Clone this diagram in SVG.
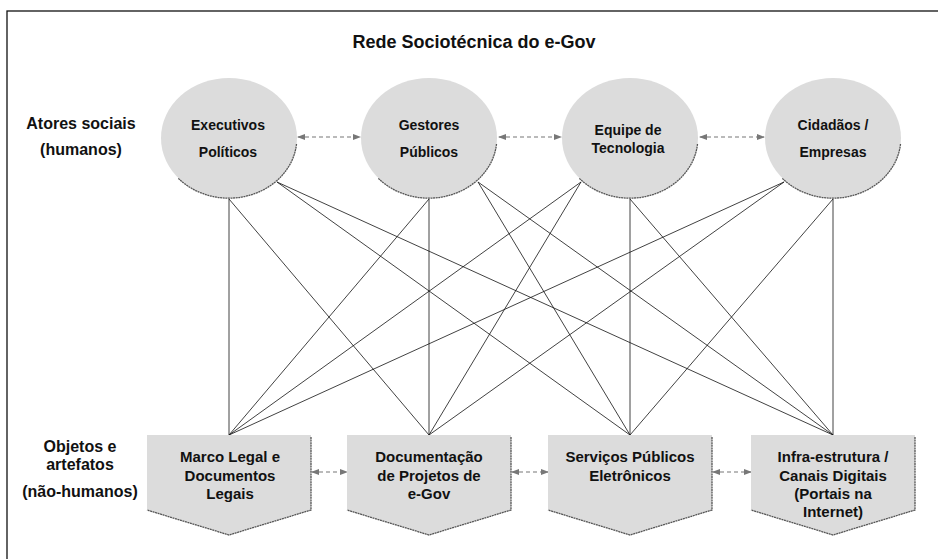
<svg xmlns="http://www.w3.org/2000/svg" width="938" height="559" viewBox="0 0 938 559">
  <defs>
    <marker id="ah" viewBox="0 0 8 8" refX="7" refY="4" markerWidth="8" markerHeight="8" markerUnits="userSpaceOnUse" orient="auto-start-reverse">
      <path d="M0,1 L8,4 L0,7 z" fill="#777"/>
    </marker>
    <style>
      text { font-family: "Liberation Sans", Arial, sans-serif; font-weight: bold; fill: #111; text-anchor: middle; }
      .title { font-size: 18px; }
      .side { font-size: 16px; }
      .act { font-size: 14px; }
      .obj { font-size: 15px; }
      .actor ellipse { fill: #dcdcdc; }
      .shade { fill: none; stroke: #555; stroke-width: 1.3; stroke-dasharray: 2 0.6; }
      .object polygon { fill: #dcdcdc; }
      .link { stroke: #111; stroke-width: 0.8; fill: none; }
      .rel { stroke: #777; stroke-width: 1.2; stroke-dasharray: 4 3; fill: none; marker-start: url(#ah); marker-end: url(#ah); }
    </style>
  </defs>

  <rect width="938" height="559" fill="#fff"/>
  <!-- frame -->
  <rect x="7" y="11" width="1000" height="600" fill="none" stroke="#111" stroke-width="1.3"/>

  <text class="title" x="474" y="48">Rede Sociotécnica do e-Gov</text>

  <g id="label-actors">
    <text class="side" x="81" y="129">Atores sociais</text>
    <text class="side" x="81" y="155">(humanos)</text>
  </g>
  <g id="label-objects">
    <text class="side" x="80" y="452">Objetos e</text>
    <text class="side" x="80" y="470">artefatos</text>
    <text class="side" x="80" y="497">(não-humanos)</text>
  </g>

  <!-- connectors -->
  <g id="connectors">
    <!-- Executivos Politicos -->
    <line class="link" x1="229" y1="199" x2="229" y2="435"/>
    <line class="link" x1="229" y1="199" x2="429" y2="435"/>
    <line class="link" x1="277" y1="182" x2="630" y2="435"/>
    <line class="link" x1="277" y1="182" x2="833" y2="435"/>
    <!-- Gestores Publicos -->
    <line class="link" x1="429" y1="199" x2="229" y2="435"/>
    <line class="link" x1="429" y1="199" x2="429" y2="435"/>
    <line class="link" x1="478" y1="182" x2="630" y2="435"/>
    <line class="link" x1="478" y1="182" x2="833" y2="435"/>
    <!-- Equipe de Tecnologia -->
    <line class="link" x1="581" y1="182" x2="229" y2="435"/>
    <line class="link" x1="581" y1="182" x2="429" y2="435"/>
    <line class="link" x1="630" y1="199" x2="630" y2="435"/>
    <line class="link" x1="630" y1="199" x2="833" y2="435"/>
    <!-- Cidadaos / Empresas -->
    <line class="link" x1="784" y1="182" x2="229" y2="435"/>
    <line class="link" x1="784" y1="182" x2="429" y2="435"/>
    <line class="link" x1="833" y1="199" x2="630" y2="435"/>
    <line class="link" x1="833" y1="199" x2="833" y2="435"/>

    <!-- relations between actors -->
    <line class="rel" x1="298" y1="137" x2="360" y2="137"/>
    <line class="rel" x1="499" y1="137" x2="561" y2="137"/>
    <line class="rel" x1="700" y1="137" x2="764" y2="137"/>
    <!-- relations between objects -->
    <line class="rel" x1="312" y1="472" x2="347" y2="472"/>
    <line class="rel" x1="512" y1="472" x2="548" y2="472"/>
    <line class="rel" x1="713" y1="472" x2="751" y2="472"/>
  </g>

  <!-- actors -->
  <g id="executivos" class="actor">
    <ellipse cx="229" cy="138" rx="68" ry="60"/>
    <path class="shade" d="M296.5,144 A68,60 0 0 1 178,178"/>
    <text class="act" x="228" y="130">Executivos</text>
    <text class="act" x="228" y="157">Políticos</text>
  </g>
  <g id="gestores" class="actor">
    <ellipse cx="429" cy="138" rx="68" ry="60"/>
    <path class="shade" d="M496.5,144 A68,60 0 0 1 378,178"/>
    <text class="act" x="429" y="130">Gestores</text>
    <text class="act" x="429" y="157">Públicos</text>
  </g>
  <g id="equipe" class="actor">
    <ellipse cx="630" cy="138" rx="68" ry="60"/>
    <path class="shade" d="M697.5,144 A68,60 0 0 1 579,178"/>
    <text class="act" x="628" y="135">Equipe de</text>
    <text class="act" x="628" y="153">Tecnologia</text>
  </g>
  <g id="cidadaos" class="actor">
    <ellipse cx="833" cy="138" rx="68" ry="60"/>
    <path class="shade" d="M900.5,144 A68,60 0 0 1 782,178"/>
    <text class="act" x="833" y="130">Cidadãos /</text>
    <text class="act" x="833" y="157">Empresas</text>
  </g>

  <!-- objects -->
  <g id="marco-legal" class="object">
    <polygon points="147,435 311,435 311,510 229,535 147,510"/>
    <path class="shade" d="M311,437 L311,510 L229,535 L147,510"/>
    <text class="obj" x="230" y="462">Marco Legal e</text>
    <text class="obj" x="230" y="481">Documentos</text>
    <text class="obj" x="230" y="499">Legais</text>
  </g>
  <g id="documentacao" class="object">
    <polygon points="347,435 511,435 511,510 429,535 347,510"/>
    <path class="shade" d="M511,437 L511,510 L429,535 L347,510"/>
    <text class="obj" x="429" y="462">Documentação</text>
    <text class="obj" x="429" y="481">de Projetos de</text>
    <text class="obj" x="429" y="499">e-Gov</text>
  </g>
  <g id="servicos" class="object">
    <polygon points="548,435 712,435 712,510 630,535 548,510"/>
    <path class="shade" d="M712,437 L712,510 L630,535 L548,510"/>
    <text class="obj" x="630" y="462">Serviços Públicos</text>
    <text class="obj" x="630" y="481">Eletrônicos</text>
  </g>
  <g id="infraestrutura" class="object">
    <polygon points="751,435 915,435 915,510 833,535 751,510"/>
    <path class="shade" d="M915,437 L915,510 L833,535 L751,510"/>
    <text class="obj" x="833" y="462">Infra-estrutura /</text>
    <text class="obj" x="833" y="481">Canais Digitais</text>
    <text class="obj" x="833" y="499">(Portais na</text>
    <text class="obj" x="833" y="517">Internet)</text>
  </g>
</svg>
